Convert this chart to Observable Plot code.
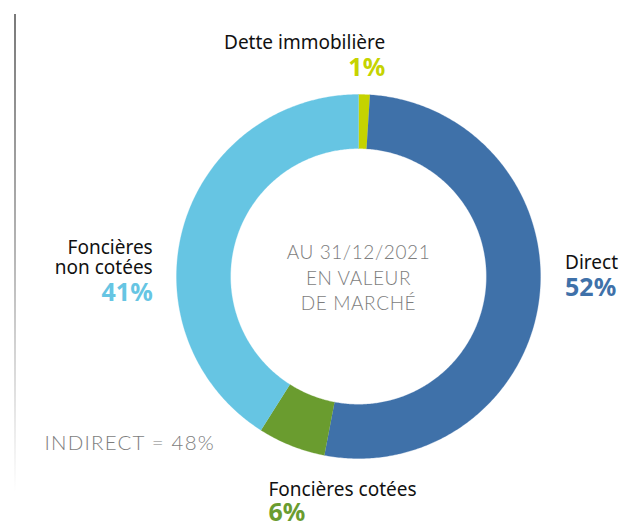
<!DOCTYPE html>
<html>
<head>
<meta charset="utf-8">
<script src="https://cdn.jsdelivr.net/npm/d3@7"></script>
<script src="https://cdn.jsdelivr.net/npm/@observablehq/plot@0.6"></script>
<style>
  html, body { margin: 0; padding: 0; background: #fff; }
  #wrap { position: relative; width: 624px; height: 524px; overflow: hidden; }
  #bar { position: absolute; left: 14px; top: 14px; width: 2px; height: 478px;
         background: linear-gradient(#7a7a7a, #b5b5b5 50%, #ffffff); }
  #chart svg { display: block; }
</style>
</head>
<body>
<div id="wrap"><div id="bar"></div><div id="chart"></div></div>
<script>
// ---- data ----
const categories = ["Dette immobilière", "Direct", "Foncières cotées", "Foncières non cotées"];
const values = [1, 52, 6, 41];
const nameLabels = ["Dette immobilière", "Direct", "Foncières cotées", "Foncières\nnon cotées"];
const colors = ["#c5d300", "#3f71a9", "#6a9c2f", "#66c5e3"];
const indirectCats = ["Dette immobilière", "Foncières cotées", "Foncières non cotées"];
const centerText = "AU 31/12/2021\nEN VALEUR\nDE MARCHÉ";

// ---- geometry derived from the data ----
const inner = 0.703;
const pie = d3.pie().sort(null).value(d => d.value)(categories.map((c, i) => ({cat: c, value: values[i], i})));
const ringPts = [];
for (const a of pie) {
  const n = Math.max(8, Math.ceil((a.endAngle - a.startAngle) / 0.01));
  for (let k = 0; k <= n; k++) {
    const t = a.startAngle + (a.endAngle - a.startAngle) * k / n;
    ringPts.push({cat: a.data.cat, x: Math.sin(t), y: Math.cos(t)});
  }
  for (let k = n; k >= 0; k--) {
    const t = a.startAngle + (a.endAngle - a.startAngle) * k / n;
    ringPts.push({cat: a.data.cat, x: inner * Math.sin(t), y: inner * Math.cos(t)});
  }
}
const mids = pie.map(a => {
  const m = (a.startAngle + a.endAngle) / 2;
  return {cat: a.data.cat, i: a.data.i, x: Math.sin(m), y: Math.cos(m)};
});

// label layout (pixel offsets from each slice's outer mid point)
const layout = [
  {anchor: "end",   dx: 21,  nameDy: -52, pctDy: -27},
  {anchor: "start", dx: 26,  nameDy: -37, pctDy: -11},
  {anchor: "start", dx: -23, nameDy: 44,  pctDy: 67},
  {anchor: "end",   dx: -31, nameDy: 32,  pctDy: 67}
];

const labelFont = "'Noto Sans', sans-serif";
const labelMarks = mids.flatMap((m, j) => {
  const L = layout[j];
  return [
    Plot.text([m], {x: "x", y: "y", text: () => nameLabels[m.i], textAnchor: L.anchor,
      dx: L.dx, dy: L.nameDy, fill: "#111", fontSize: 19, lineHeight: 1.06, fontFamily: labelFont}),
    Plot.text([m], {x: "x", y: "y", text: () => values[m.i] + "%", textAnchor: L.anchor,
      dx: L.dx, dy: L.pctDy, fill: colors[m.i], fontSize: 25, fontWeight: 700, fontFamily: labelFont})
  ];
});

const indirectTotal = d3.sum(indirectCats, c => values[categories.indexOf(c)]);

const chart = Plot.plot({
  width: 624,
  height: 524,
  marginLeft: 176,
  marginRight: 84,
  marginTop: 94,
  marginBottom: 66,
  x: {domain: [-1, 1], axis: null},
  y: {domain: [-1, 1], axis: null},
  color: {domain: categories, range: colors},
  style: {background: "transparent", overflow: "visible"},
  marks: [
    Plot.line(ringPts, {x: "x", y: "y", z: "cat", fill: "cat", stroke: "cat", strokeWidth: 0.3, curve: "linear"}),
    Plot.text([centerText], {frameAnchor: "middle", text: d => d, fill: "#7d7d7d",
      fontSize: 19, fontWeight: 300, lineHeight: 1.32, fontFamily: "Lato, sans-serif"}),
    Plot.text([`INDIRECT = ${indirectTotal}%`], {frameAnchor: "bottom-left", text: d => d, textAnchor: "start",
      dx: -132, dy: -9, fill: "#7d7d7d", fontSize: 20.5, fontWeight: 300, fontFamily: "Lato, sans-serif"}),
    ...labelMarks
  ]
});
d3.select(chart).selectAll("text").each(function () {
  const t = this.textContent;
  if (t.startsWith("INDIRECT")) this.style.letterSpacing = "1.2px";
  else if (t.startsWith("AU 31")) this.style.letterSpacing = "0.6px";
});
document.getElementById("chart").appendChild(chart);
</script>
</body>
</html>
